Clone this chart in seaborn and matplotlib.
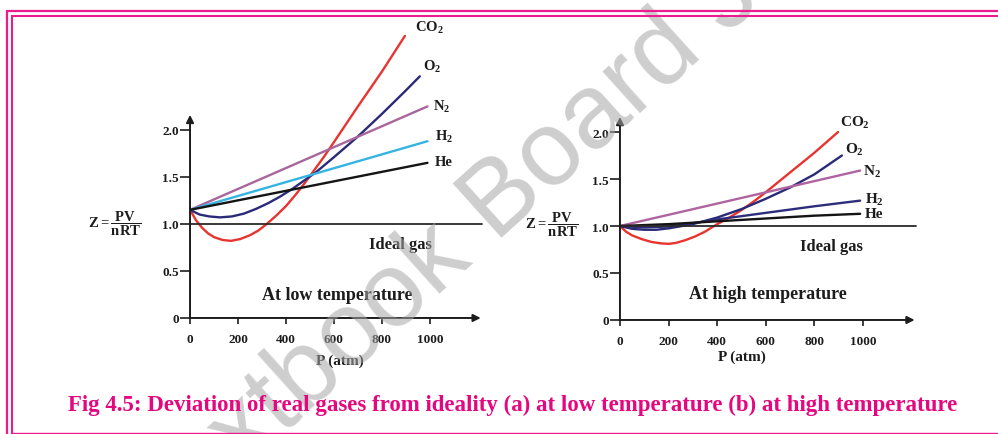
import matplotlib
matplotlib.use('Agg')
import matplotlib.pyplot as plt
import pandas as pd
import seaborn as sns
from matplotlib.lines import Line2D

# ---- readings taken off the figure: pressure (atm) and Z = PV/nRT ----
# (a) at low temperature
low_co2_p = [0, 25, 50, 75, 100, 135, 170, 210, 250, 285, 320, 360, 400, 440, 480, 520, 560, 600, 700, 800, 896]
low_co2_z = [1.15, 1.04, 0.96, 0.90, 0.86, 0.83, 0.82, 0.84, 0.88, 0.93, 1.00, 1.09, 1.19, 1.31, 1.44, 1.58, 1.72, 1.87, 2.25, 2.62, 3.00]
low_o2_p = [0, 40, 80, 125, 175, 225, 275, 325, 375, 425, 475, 525, 600, 700, 800, 900, 958]
low_o2_z = [1.15, 1.10, 1.08, 1.07, 1.08, 1.11, 1.16, 1.22, 1.29, 1.37, 1.46, 1.55, 1.71, 1.93, 2.17, 2.42, 2.57]
low_n2_p = [0, 990]
low_n2_z = [1.15, 2.25]
low_h2_p = [0, 990]
low_h2_z = [1.15, 1.88]
low_he_p = [0, 990]
low_he_z = [1.15, 1.65]

# (b) at high temperature
high_co2_p = [0, 25, 50, 90, 130, 170, 200, 230, 270, 310, 350, 400, 450, 500, 550, 600, 700, 800, 897]
high_co2_z = [1.00, 0.94, 0.90, 0.86, 0.83, 0.815, 0.81, 0.82, 0.85, 0.89, 0.94, 1.02, 1.09, 1.17, 1.26, 1.36, 1.57, 1.78, 2.00]
high_o2_p = [0, 50, 100, 150, 200, 300, 400, 500, 600, 700, 800, 913]
high_o2_z = [1.00, 0.97, 0.96, 0.96, 0.975, 1.02, 1.09, 1.18, 1.29, 1.41, 1.55, 1.75]
high_n2_p = [0, 988]
high_n2_z = [1.00, 1.59]
high_h2_p = [0, 100, 200, 300, 400, 600, 800, 988]
high_h2_z = [1.00, 0.985, 0.995, 1.03, 1.07, 1.14, 1.21, 1.27]
high_he_p = [0, 200, 400, 600, 800, 988]
high_he_z = [1.00, 1.02, 1.05, 1.08, 1.11, 1.13]

ideal_p = [0, 1217]
ideal_z = [1.0, 1.0]

gases = ['CO2', 'O2', 'N2', 'H2', 'He']
gas_labels = ['CO$_2$', 'O$_2$', 'N$_2$', 'H$_2$', 'He']
low_label_pos = [(937, 3.09), (971, 2.68), (1012, 2.25), (1021, 1.94), (1021, 1.66)]
high_label_pos = [(905, 2.11), (926, 1.82), (1000, 1.59), (1008, 1.29), (1008, 1.13)]

x_ticks = [0, 200, 400, 600, 800, 1000]
x_tick_labels = ['0', '200', '400', '600', '800', '1000']
y_ticks = [0, 0.5, 1.0, 1.5, 2.0]
y_tick_labels = ['0', '0.5', '1.0', '1.5', '2.0']

caption = 'Fig 4.5: Deviation of real gases from ideality (a) at low temperature (b) at high temperature'

low_palette = {'CO2': '#e8342e', 'O2': '#2b2a78', 'N2': '#a8669c', 'H2': '#35b4e2', 'He': '#141414'}
high_palette = {'CO2': '#e8342e', 'O2': '#2b2a78', 'N2': '#b0649f', 'H2': '#2e2d7c', 'He': '#141414'}


def long_table(series):
    rows = []
    for gas, (p, z) in zip(gases, series):
        rows += [{'gas': gas, 'P': a, 'Z': b} for a, b in zip(p, z)]
    return pd.DataFrame(rows)


low_df = long_table([(low_co2_p, low_co2_z), (low_o2_p, low_o2_z), (low_n2_p, low_n2_z),
                     (low_h2_p, low_h2_z), (low_he_p, low_he_z)])
high_df = long_table([(high_co2_p, high_co2_z), (high_o2_p, high_o2_z), (high_n2_p, high_n2_z),
                      (high_h2_p, high_h2_z), (high_he_p, high_he_z)])

sns.set_style('white')
plt.rcParams['font.family'] = ['Liberation Serif', 'DejaVu Serif']
plt.rcParams['font.weight'] = 'bold'
plt.rcParams['mathtext.fontset'] = 'custom'
plt.rcParams['mathtext.rm'] = 'Liberation Serif:bold'
plt.rcParams['mathtext.it'] = 'Liberation Serif:bold'
plt.rcParams['mathtext.bf'] = 'Liberation Serif:bold'

fig = plt.figure(figsize=(9.98, 4.35), dpi=100)
ax_low = fig.add_axes([0.1904, 0.2667, 0.2956, 0.6874])
ax_high = fig.add_axes([0.6212, 0.2621, 0.2996, 0.687])

ink = '#1c1c1c'


def draw_panel(ax, df, palette, label_pos, title, title_xy, ideal_xy, p_xy, z_xy, lab_size):
    ax.set_facecolor('none')
    sns.lineplot(data=df, x='P', y='Z', hue='gas', palette=palette, estimator=None,
                 sort=False, legend=False, linewidth=1.7, ax=ax)
    sns.lineplot(x=ideal_p, y=ideal_z, color='#2a2a2a', linewidth=1.3, ax=ax)
    ax.set_xlim(0, 1230)
    ax.set_ylim(0, 3.18)
    for s in ax.spines.values():
        s.set_visible(False)
    arrow = dict(arrowstyle='-|>', color=ink, lw=1.4, mutation_scale=11, shrinkA=0, shrinkB=0)
    ax.annotate('', xy=(1212, 0), xytext=(0, 0), arrowprops=arrow, annotation_clip=False)
    ax.annotate('', xy=(0, 2.16), xytext=(0, 0), arrowprops=arrow, annotation_clip=False)
    ax.set_xticks(x_ticks)
    ax.set_xticklabels(x_tick_labels)
    ax.set_yticks(y_ticks)
    ax.set_yticklabels(y_tick_labels)
    ax.tick_params(axis='x', direction='out', length=4, width=1.2, pad=7, labelsize=9.5,
                   colors=ink, bottom=True)
    ax.tick_params(axis='y', direction='out', length=7, width=1.2, pad=1, labelsize=9.5,
                   colors=ink, left=True)
    ax.set_xlabel('')
    ax.set_ylabel('')
    for lab, (x, y) in zip(gas_labels, label_pos):
        ax.text(x, y, lab, fontsize=lab_size, color=ink, ha='left', va='center', clip_on=False)
    ax.text(*ideal_xy, 'Ideal gas', fontsize=12, color=ink, ha='center', va='center')
    ax.text(*title_xy, title, fontsize=13, color=ink, ha='center', va='center')
    ax.text(*p_xy, 'P (atm)', fontsize=11, color=ink, ha='center', va='center', clip_on=False)
    ax.text(*z_xy, r'$Z = \dfrac{PV}{nRT}$', fontsize=10.5, color=ink, ha='center',
            va='center', clip_on=False)


draw_panel(ax_low, low_df, low_palette, low_label_pos, 'At low temperature',
           (612, 0.255), (879, 0.79), (625, -0.45), (-312, 1.01), 10.5)
draw_panel(ax_high, high_df, high_palette, high_label_pos, 'At high temperature',
           (609, 0.277), (872, 0.79), (502, -0.39), (-280, 1.02), 11)

# watermark, partly off the page as in the scan
fig.text(160 / 998, 1 - 545 / 435, 'Textbook Board Jamshoro', family='Liberation Sans',
         fontweight='normal', fontsize=76, color='#a6a6a6', alpha=0.55, rotation=42,
         rotation_mode='anchor', ha='left', va='baseline', zorder=3)

# magenta frame
mag = '#ec1c8e'


def px_line(xs, ys, lw):
    fig.add_artist(Line2D([x / 998 for x in xs], [1 - y / 435 for y in ys], color=mag,
                          linewidth=lw, transform=fig.transFigure, zorder=6,
                          solid_capstyle='butt'))


px_line([6.5, 6.5], [11.5, 435], 1.6)
px_line([5.8, 998], [12, 12], 1.6)
px_line([12, 12], [16.7, 435], 1.5)
px_line([11.3, 998], [16.7, 16.7], 1.5)
px_line([12, 998], [434, 434], 1.0)

cap = fig.text(513 / 998, 1 - 405 / 435, caption, color='#e4077f', fontsize=17,
               fontweight='bold', family='Liberation Serif', ha='center', va='center', zorder=6)
fig.canvas.draw()
w = cap.get_window_extent().width
cap.set_fontsize(17 * 892 / w)

fig.savefig('out.png', dpi=100)
